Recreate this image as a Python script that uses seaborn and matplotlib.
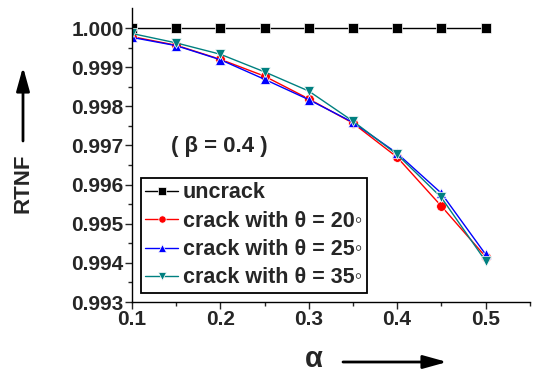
import numpy as np
import pandas as pd
import matplotlib
matplotlib.use("Agg")
import matplotlib.pyplot as plt
import seaborn as sns

alpha = [0.10, 0.15, 0.20, 0.25, 0.30, 0.35, 0.40, 0.45, 0.50]
uncrack = [1.000, 1.000, 1.000, 1.000, 1.000, 1.000, 1.000, 1.000, 1.000]
crack20 = [0.99978, 0.99956, 0.99920, 0.99877, 0.99819, 0.99757, 0.99670, 0.99545, 0.99416]
crack25 = [0.99976, 0.99955, 0.99919, 0.99869, 0.99817, 0.99759, 0.99680, 0.99578, 0.99422]
crack35 = [0.99986, 0.99962, 0.99933, 0.99888, 0.99839, 0.99762, 0.99677, 0.99567, 0.99405]
labels = ["uncrack", "crack with \u03b8 = 20\u25e6", "crack with \u03b8 = 25\u25e6", "crack with \u03b8 = 35\u25e6"]
colors = ["#000000", "#ff0000", "#0000ff", "#008080"]
markers = ["s", "o", "^", "v"]

sns.set_style("ticks")
plt.rcParams['font.family'] = ['Liberation Sans', 'DejaVu Sans']
plt.rcParams['font.weight'] = 'bold'

rows = []
for lab, vals in zip(labels, [uncrack, crack20, crack25, crack35]):
    for a, v in zip(alpha, vals):
        rows.append({"alpha": a, "RTNF": v, "series": lab})
df = pd.DataFrame(rows)

fig = plt.figure(figsize=(5.34, 3.74), dpi=100)
ax = fig.add_axes([0.247, 0.1925, 0.745, 0.786])

sns.lineplot(data=df, x="alpha", y="RTNF", hue="series", style="series",
             hue_order=labels, style_order=labels,
             palette=dict(zip(labels, colors)), markers=dict(zip(labels, markers)),
             dashes=False, markersize=7, linewidth=1.0, markeredgewidth=0.5,
             ax=ax, legend=True)

ax.set_xlim(0.1, 0.547)
ax.set_ylim(0.993, 1.00051)
ax.set_xticks([0.1, 0.2, 0.3, 0.4, 0.5])
ax.set_xticks([0.15, 0.25, 0.35, 0.45, 0.55], minor=True)
ax.set_yticks(np.arange(0.993, 1.0004, 0.001))
ax.set_yticks(np.arange(0.9935, 1.0004, 0.001), minor=True)
ax.set_xticklabels(["0.1", "0.2", "0.3", "0.4", "0.5"])
ax.set_yticklabels(["0.993", "0.994", "0.995", "0.996", "0.997", "0.998", "0.999", "1.000"])
ax.tick_params(axis='both', which='major', labelsize=15, length=5, width=1, direction='out', pad=1)
ax.tick_params(axis='both', which='minor', length=3, width=1, direction='out')
for t in ax.get_xticklabels() + ax.get_yticklabels():
    t.set_fontweight('bold')
sns.despine(ax=ax)
for s in ["left", "bottom"]:
    ax.spines[s].set_linewidth(1.0)
    ax.spines[s].set_color("black")
ax.set_xlabel("")
ax.set_ylabel("")

handles, hl = ax.get_legend_handles_labels()
leg = ax.legend(handles, hl, loc="lower left", bbox_to_anchor=(0.022, 0.03),
                frameon=True, fancybox=False, edgecolor="black", framealpha=1,
                prop={'size': 15.5, 'weight': 'bold'}, handlelength=1.5,
                handletextpad=0.25, labelspacing=0.34, borderpad=0.22, borderaxespad=0,
                markerscale=0.75)
leg.get_frame().set_linewidth(1.3)

ax.text(0.199, 0.99696, "( \u03b2 = 0.4 )", fontsize=16, fontweight='bold', ha='center', va='center')

# axis labels with arrows
fig.text(23/534, 1-183/374, "RTNF", rotation=90, fontsize=16, fontweight='bold', ha='center', va='center')
fig.add_artist(matplotlib.patches.FancyArrowPatch((23/534, 1-141/374), (23/534, 1-67/374),
               transform=fig.transFigure, arrowstyle='-|>,head_length=0.9,head_width=0.25',
               mutation_scale=16, lw=2, color='black', shrinkA=0, shrinkB=0))
fig.text(314/534, 1-359/374, "\u03b1", fontsize=21, ha='center', va='center')
fig.add_artist(matplotlib.patches.FancyArrowPatch((343/534, 1-362/374), (447/534, 1-362/374),
               transform=fig.transFigure, arrowstyle='-|>,head_length=0.9,head_width=0.25',
               mutation_scale=16, lw=2, color='black', shrinkA=0, shrinkB=0))

fig.savefig("out.png", dpi=100)
